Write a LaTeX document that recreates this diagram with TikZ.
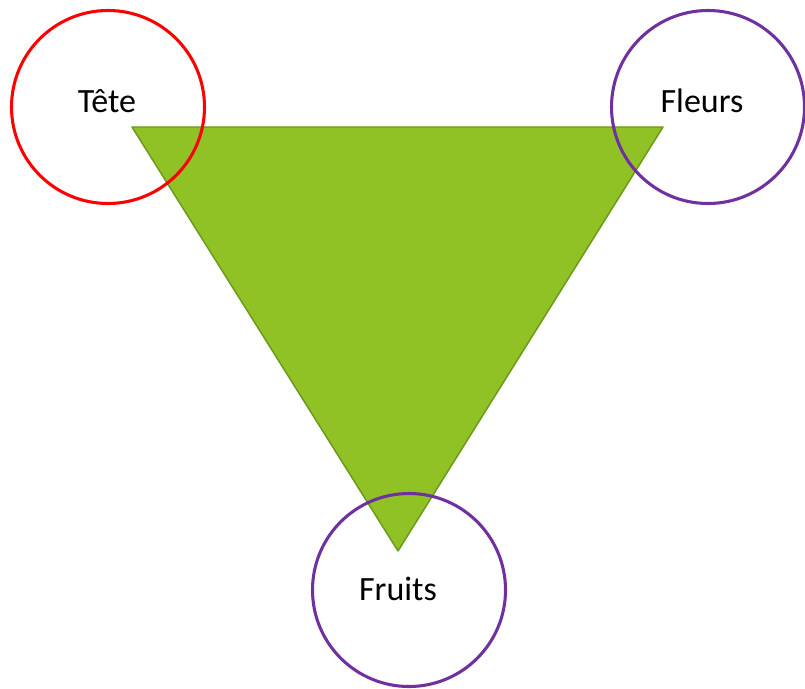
\documentclass[tikz,border=0pt]{standalone}
\usepackage{fontspec}
\setmainfont{Carlito}
\usepackage{xcolor}
\usepackage{tikz}

\definecolor{leafgreen}{HTML}{90C226}
\definecolor{leafedge}{HTML}{6A9A1C}
\definecolor{plum}{HTML}{7030A0}

\tikzset{
    ring/.style={circle, draw, line width=2.3pt, minimum size=144.75pt, inner sep=0pt},
    word/.style={font=\fontsize{25.5}{30}\selectfont}
}

\begin{document}
\begin{tikzpicture}[x=0.75pt,y=-0.75pt]
        \useasboundingbox (0,0) rectangle (805,688);

        \coordinate (v1) at (132,127);
        \coordinate (v2) at (663,127);
        \coordinate (v3) at (398,551);

        \draw[fill=leafgreen, draw=leafedge, line width=1.1pt, line join=round] (v1) -- (v2) -- (v3) -- cycle;

        \node[ring, draw=red, label={[word, xshift=-0.75pt, yshift=4.5pt]center:Tête}] (tete) at (108,107) {};
        \node[ring, draw=plum, label={[word, xshift=-4.5pt, yshift=4.5pt]center:Fleurs}] (fleurs) at (708,107) {};
        \node[ring, draw=plum, label={[word, xshift=-8.25pt, yshift=0.75pt]center:Fruits}] (fruits) at (409,590) {};
    \end{tikzpicture}
\end{document}
